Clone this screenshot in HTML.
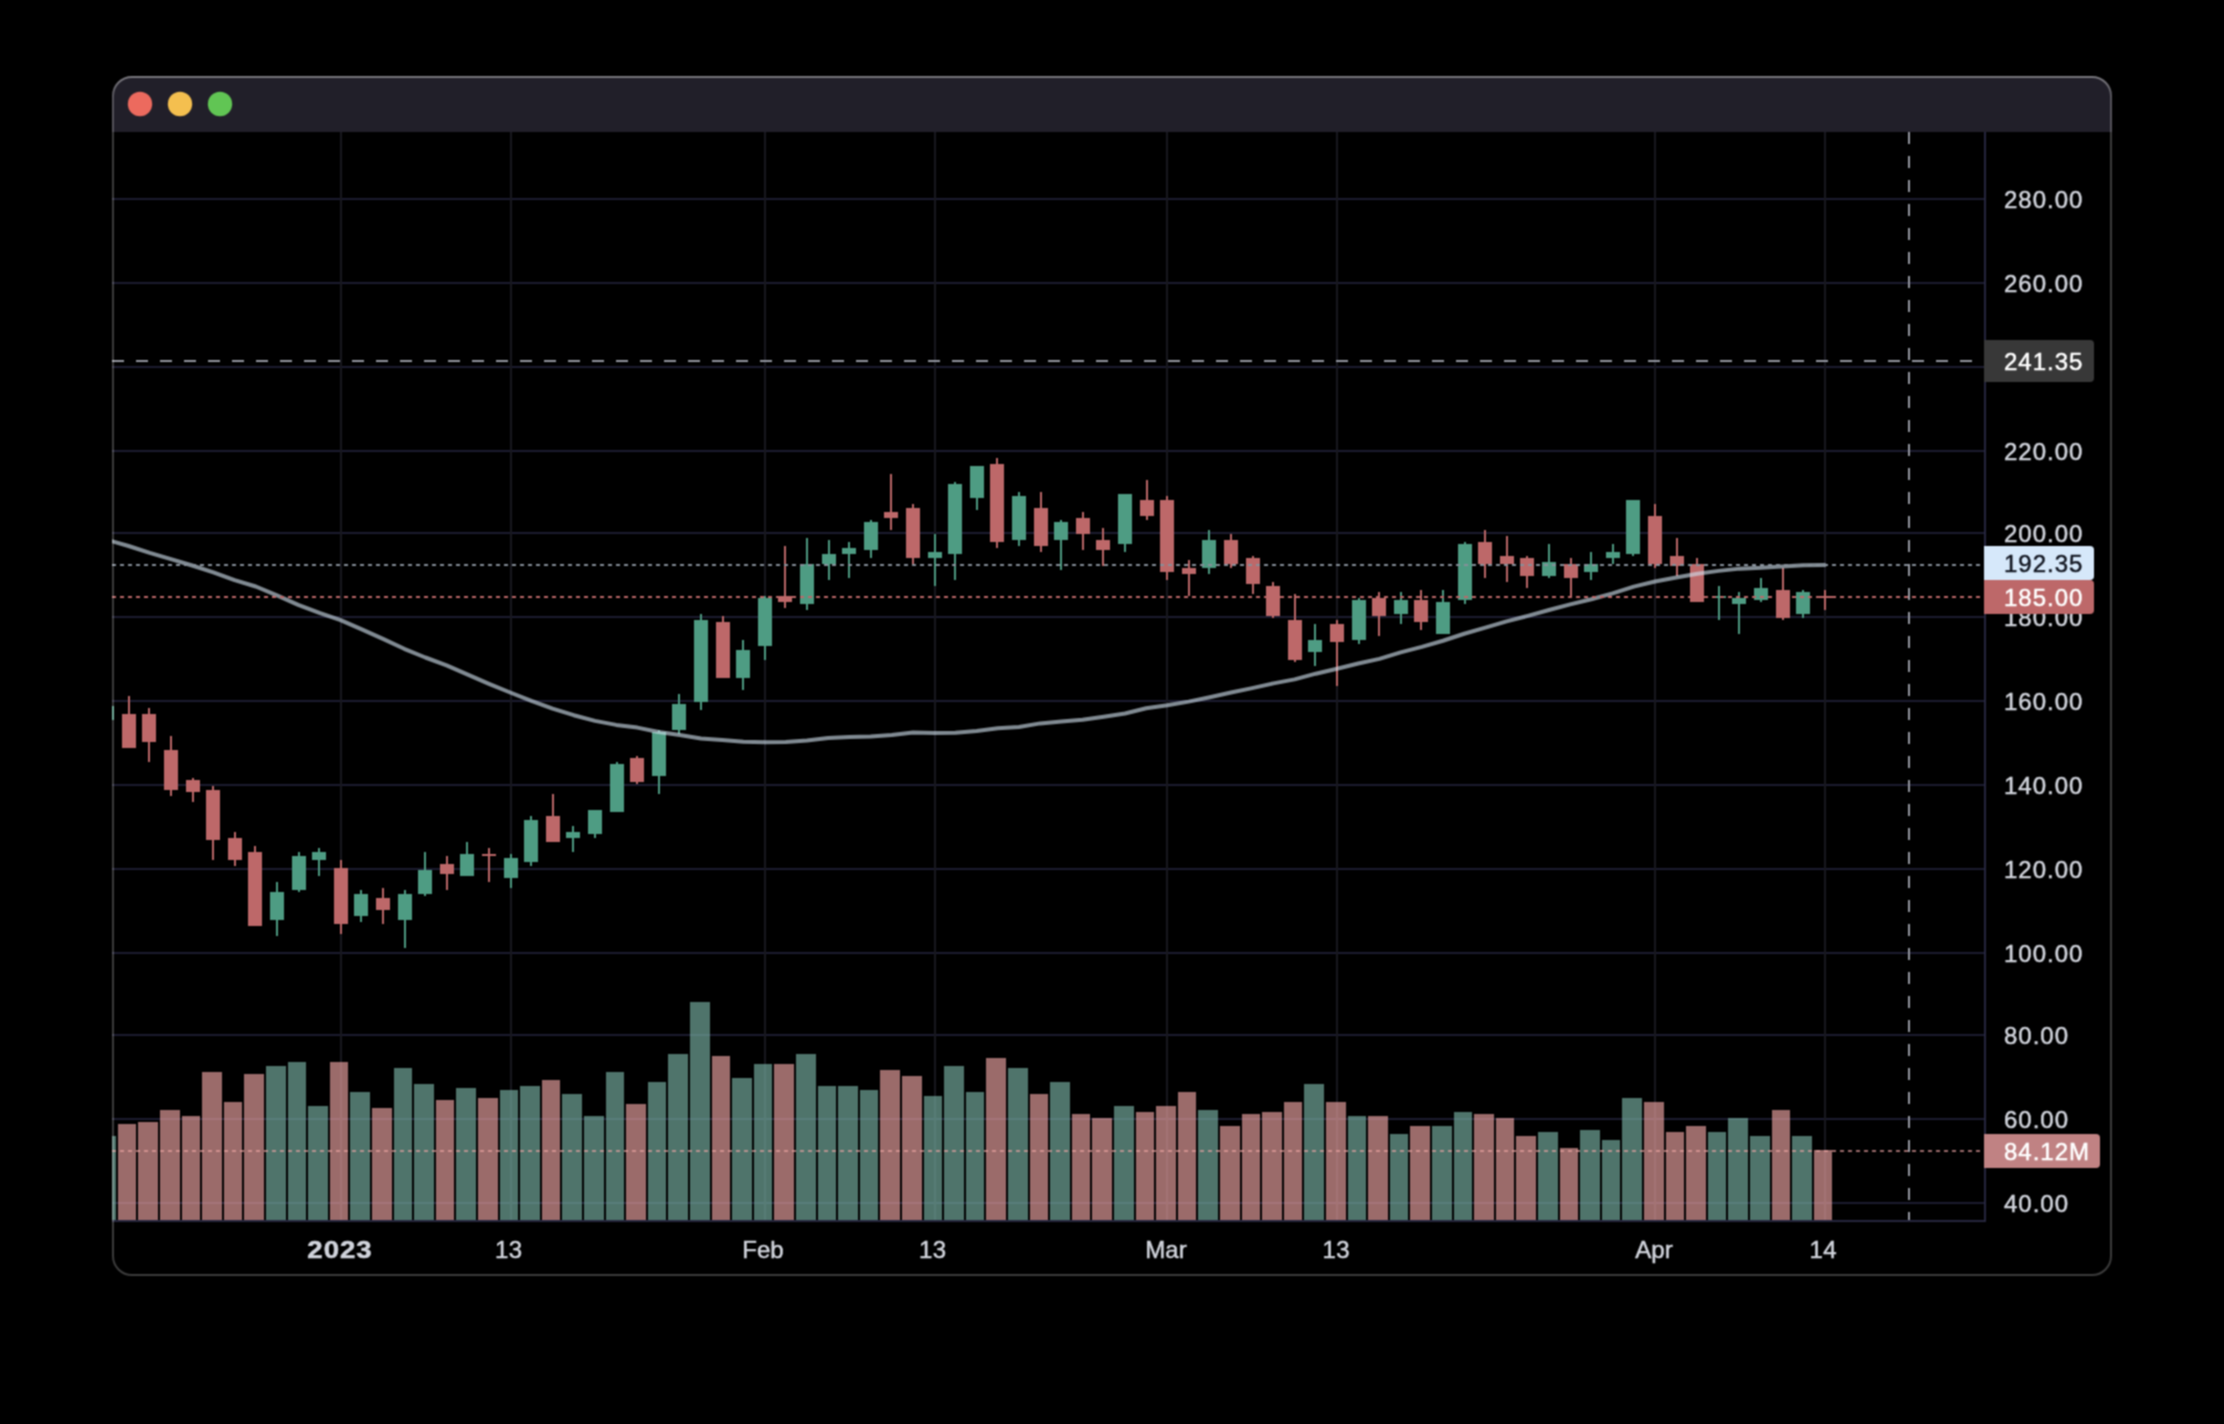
<!DOCTYPE html><html><head><meta charset="utf-8"><title>Chart</title>
<style>html,body{margin:0;padding:0;background:#000;width:2224px;height:1424px;overflow:hidden}svg{display:block;will-change:transform}text{font-family:"Liberation Sans",sans-serif}</style></head><body>
<svg xmlns="http://www.w3.org/2000/svg" width="2224" height="1424" viewBox="0 0 2224 1424" shape-rendering="crispEdges">
<defs>
<filter id="up" x="0" y="0" width="2224" height="1424" filterUnits="userSpaceOnUse" color-interpolation-filters="sRGB"><feConvolveMatrix order="3" kernelMatrix="1 2 1 2 4 2 1 2 1" divisor="16" edgeMode="duplicate" preserveAlpha="true"/></filter>
<clipPath id="win"><rect x="112" y="76" width="2000" height="1200" rx="20" ry="20"/></clipPath>
<clipPath id="pane"><rect x="112" y="132" width="1872" height="1088"/></clipPath>
<linearGradient id="tbh" x1="0" y1="76" x2="0" y2="98" gradientUnits="userSpaceOnUse"><stop offset="0" stop-color="#fff" stop-opacity="0.22"/><stop offset="1" stop-color="#fff" stop-opacity="0"/></linearGradient>
</defs>
<g filter="url(#up)">
<rect width="2224" height="1424" fill="#000"/>
<g clip-path="url(#win)">
<rect x="112" y="76" width="2000" height="1200" fill="#000"/>
<rect x="112" y="76" width="2000" height="56" fill="#211f29"/>
<g clip-path="url(#pane)">
<rect x="112" y="198" width="1872" height="2" fill="#1c1c30"/>
<rect x="112" y="282" width="1872" height="2" fill="#1c1c30"/>
<rect x="112" y="366" width="1872" height="2" fill="#1c1c30"/>
<rect x="112" y="450" width="1872" height="2" fill="#1c1c30"/>
<rect x="112" y="532" width="1872" height="2" fill="#1c1c30"/>
<rect x="112" y="616" width="1872" height="2" fill="#1c1c30"/>
<rect x="112" y="700" width="1872" height="2" fill="#1c1c30"/>
<rect x="112" y="784" width="1872" height="2" fill="#1c1c30"/>
<rect x="112" y="868" width="1872" height="2" fill="#1c1c30"/>
<rect x="112" y="952" width="1872" height="2" fill="#1c1c30"/>
<rect x="112" y="1034" width="1872" height="2" fill="#1c1c30"/>
<rect x="112" y="1118" width="1872" height="2" fill="#1c1c30"/>
<rect x="112" y="1202" width="1872" height="2" fill="#1c1c30"/>
<rect x="340" y="132" width="2" height="1088" fill="#18181f"/>
<rect x="510" y="132" width="2" height="1088" fill="#18181f"/>
<rect x="764" y="132" width="2" height="1088" fill="#18181f"/>
<rect x="934" y="132" width="2" height="1088" fill="#18181f"/>
<rect x="1166" y="132" width="2" height="1088" fill="#18181f"/>
<rect x="1336" y="132" width="2" height="1088" fill="#18181f"/>
<rect x="1654" y="132" width="2" height="1088" fill="#18181f"/>
<rect x="1824" y="132" width="2" height="1088" fill="#18181f"/>
<rect x="96" y="1136" width="20" height="84" fill="rgba(120,177,163,0.655)"/>
<rect x="118" y="1124" width="18" height="96" fill="rgba(236,164,162,0.655)"/>
<rect x="138" y="1122" width="20" height="98" fill="rgba(236,164,162,0.655)"/>
<rect x="160" y="1110" width="20" height="110" fill="rgba(236,164,162,0.655)"/>
<rect x="182" y="1116" width="18" height="104" fill="rgba(236,164,162,0.655)"/>
<rect x="202" y="1072" width="20" height="148" fill="rgba(236,164,162,0.655)"/>
<rect x="224" y="1102" width="18" height="118" fill="rgba(236,164,162,0.655)"/>
<rect x="244" y="1074" width="20" height="146" fill="rgba(236,164,162,0.655)"/>
<rect x="266" y="1066" width="20" height="154" fill="rgba(120,177,163,0.655)"/>
<rect x="288" y="1062" width="18" height="158" fill="rgba(120,177,163,0.655)"/>
<rect x="308" y="1106" width="20" height="114" fill="rgba(120,177,163,0.655)"/>
<rect x="330" y="1062" width="18" height="158" fill="rgba(236,164,162,0.655)"/>
<rect x="350" y="1092" width="20" height="128" fill="rgba(120,177,163,0.655)"/>
<rect x="372" y="1108" width="20" height="112" fill="rgba(236,164,162,0.655)"/>
<rect x="394" y="1068" width="18" height="152" fill="rgba(120,177,163,0.655)"/>
<rect x="414" y="1084" width="20" height="136" fill="rgba(120,177,163,0.655)"/>
<rect x="436" y="1100" width="18" height="120" fill="rgba(236,164,162,0.655)"/>
<rect x="456" y="1088" width="20" height="132" fill="rgba(120,177,163,0.655)"/>
<rect x="478" y="1098" width="20" height="122" fill="rgba(236,164,162,0.655)"/>
<rect x="500" y="1090" width="18" height="130" fill="rgba(120,177,163,0.655)"/>
<rect x="520" y="1086" width="20" height="134" fill="rgba(120,177,163,0.655)"/>
<rect x="542" y="1080" width="18" height="140" fill="rgba(236,164,162,0.655)"/>
<rect x="562" y="1094" width="20" height="126" fill="rgba(120,177,163,0.655)"/>
<rect x="584" y="1116" width="20" height="104" fill="rgba(120,177,163,0.655)"/>
<rect x="606" y="1072" width="18" height="148" fill="rgba(120,177,163,0.655)"/>
<rect x="626" y="1104" width="20" height="116" fill="rgba(236,164,162,0.655)"/>
<rect x="648" y="1082" width="18" height="138" fill="rgba(120,177,163,0.655)"/>
<rect x="668" y="1054" width="20" height="166" fill="rgba(120,177,163,0.655)"/>
<rect x="690" y="1002" width="20" height="218" fill="rgba(120,177,163,0.655)"/>
<rect x="712" y="1056" width="18" height="164" fill="rgba(236,164,162,0.655)"/>
<rect x="732" y="1078" width="20" height="142" fill="rgba(120,177,163,0.655)"/>
<rect x="754" y="1064" width="18" height="156" fill="rgba(120,177,163,0.655)"/>
<rect x="774" y="1064" width="20" height="156" fill="rgba(236,164,162,0.655)"/>
<rect x="796" y="1054" width="20" height="166" fill="rgba(120,177,163,0.655)"/>
<rect x="818" y="1086" width="18" height="134" fill="rgba(120,177,163,0.655)"/>
<rect x="838" y="1086" width="20" height="134" fill="rgba(120,177,163,0.655)"/>
<rect x="860" y="1090" width="18" height="130" fill="rgba(120,177,163,0.655)"/>
<rect x="880" y="1070" width="20" height="150" fill="rgba(236,164,162,0.655)"/>
<rect x="902" y="1076" width="20" height="144" fill="rgba(236,164,162,0.655)"/>
<rect x="924" y="1096" width="18" height="124" fill="rgba(120,177,163,0.655)"/>
<rect x="944" y="1066" width="20" height="154" fill="rgba(120,177,163,0.655)"/>
<rect x="966" y="1092" width="18" height="128" fill="rgba(120,177,163,0.655)"/>
<rect x="986" y="1058" width="20" height="162" fill="rgba(236,164,162,0.655)"/>
<rect x="1008" y="1068" width="20" height="152" fill="rgba(120,177,163,0.655)"/>
<rect x="1030" y="1094" width="18" height="126" fill="rgba(236,164,162,0.655)"/>
<rect x="1050" y="1082" width="20" height="138" fill="rgba(120,177,163,0.655)"/>
<rect x="1072" y="1114" width="18" height="106" fill="rgba(236,164,162,0.655)"/>
<rect x="1092" y="1118" width="20" height="102" fill="rgba(236,164,162,0.655)"/>
<rect x="1114" y="1106" width="20" height="114" fill="rgba(120,177,163,0.655)"/>
<rect x="1136" y="1112" width="18" height="108" fill="rgba(236,164,162,0.655)"/>
<rect x="1156" y="1106" width="20" height="114" fill="rgba(236,164,162,0.655)"/>
<rect x="1178" y="1092" width="18" height="128" fill="rgba(236,164,162,0.655)"/>
<rect x="1198" y="1110" width="20" height="110" fill="rgba(120,177,163,0.655)"/>
<rect x="1220" y="1126" width="20" height="94" fill="rgba(236,164,162,0.655)"/>
<rect x="1242" y="1114" width="18" height="106" fill="rgba(236,164,162,0.655)"/>
<rect x="1262" y="1112" width="20" height="108" fill="rgba(236,164,162,0.655)"/>
<rect x="1284" y="1102" width="18" height="118" fill="rgba(236,164,162,0.655)"/>
<rect x="1304" y="1084" width="20" height="136" fill="rgba(120,177,163,0.655)"/>
<rect x="1326" y="1102" width="20" height="118" fill="rgba(236,164,162,0.655)"/>
<rect x="1348" y="1116" width="18" height="104" fill="rgba(120,177,163,0.655)"/>
<rect x="1368" y="1116" width="20" height="104" fill="rgba(236,164,162,0.655)"/>
<rect x="1390" y="1134" width="18" height="86" fill="rgba(120,177,163,0.655)"/>
<rect x="1410" y="1126" width="20" height="94" fill="rgba(236,164,162,0.655)"/>
<rect x="1432" y="1126" width="20" height="94" fill="rgba(120,177,163,0.655)"/>
<rect x="1454" y="1112" width="18" height="108" fill="rgba(120,177,163,0.655)"/>
<rect x="1474" y="1114" width="20" height="106" fill="rgba(236,164,162,0.655)"/>
<rect x="1496" y="1118" width="18" height="102" fill="rgba(236,164,162,0.655)"/>
<rect x="1516" y="1136" width="20" height="84" fill="rgba(236,164,162,0.655)"/>
<rect x="1538" y="1132" width="20" height="88" fill="rgba(120,177,163,0.655)"/>
<rect x="1560" y="1148" width="18" height="72" fill="rgba(236,164,162,0.655)"/>
<rect x="1580" y="1130" width="20" height="90" fill="rgba(120,177,163,0.655)"/>
<rect x="1602" y="1140" width="18" height="80" fill="rgba(120,177,163,0.655)"/>
<rect x="1622" y="1098" width="20" height="122" fill="rgba(120,177,163,0.655)"/>
<rect x="1644" y="1102" width="20" height="118" fill="rgba(236,164,162,0.655)"/>
<rect x="1666" y="1132" width="18" height="88" fill="rgba(236,164,162,0.655)"/>
<rect x="1686" y="1126" width="20" height="94" fill="rgba(236,164,162,0.655)"/>
<rect x="1708" y="1132" width="18" height="88" fill="rgba(120,177,163,0.655)"/>
<rect x="1728" y="1118" width="20" height="102" fill="rgba(120,177,163,0.655)"/>
<rect x="1750" y="1136" width="20" height="84" fill="rgba(120,177,163,0.655)"/>
<rect x="1772" y="1110" width="18" height="110" fill="rgba(236,164,162,0.655)"/>
<rect x="1792" y="1136" width="20" height="84" fill="rgba(120,177,163,0.655)"/>
<rect x="1814" y="1150" width="18" height="70" fill="rgba(236,164,162,0.655)"/>
<rect x="106" y="700" width="2" height="22" fill="#4e9c83"/>
<rect x="100" y="706" width="14" height="14" fill="#4e9c83"/>
<rect x="128" y="696" width="2" height="52" fill="#bd6869"/>
<rect x="122" y="714" width="14" height="34" fill="#bd6869"/>
<rect x="148" y="708" width="2" height="54" fill="#bd6869"/>
<rect x="142" y="714" width="14" height="28" fill="#bd6869"/>
<rect x="170" y="736" width="2" height="60" fill="#bd6869"/>
<rect x="164" y="750" width="14" height="40" fill="#bd6869"/>
<rect x="192" y="778" width="2" height="24" fill="#bd6869"/>
<rect x="186" y="780" width="14" height="12" fill="#bd6869"/>
<rect x="212" y="786" width="2" height="74" fill="#bd6869"/>
<rect x="206" y="790" width="14" height="50" fill="#bd6869"/>
<rect x="234" y="832" width="2" height="34" fill="#bd6869"/>
<rect x="228" y="838" width="14" height="22" fill="#bd6869"/>
<rect x="254" y="846" width="2" height="80" fill="#bd6869"/>
<rect x="248" y="852" width="14" height="74" fill="#bd6869"/>
<rect x="276" y="882" width="2" height="54" fill="#4e9c83"/>
<rect x="270" y="892" width="14" height="28" fill="#4e9c83"/>
<rect x="298" y="852" width="2" height="40" fill="#4e9c83"/>
<rect x="292" y="856" width="14" height="34" fill="#4e9c83"/>
<rect x="318" y="848" width="2" height="28" fill="#4e9c83"/>
<rect x="312" y="852" width="14" height="8" fill="#4e9c83"/>
<rect x="340" y="860" width="2" height="74" fill="#bd6869"/>
<rect x="334" y="868" width="14" height="56" fill="#bd6869"/>
<rect x="360" y="890" width="2" height="32" fill="#4e9c83"/>
<rect x="354" y="894" width="14" height="22" fill="#4e9c83"/>
<rect x="382" y="888" width="2" height="36" fill="#bd6869"/>
<rect x="376" y="898" width="14" height="12" fill="#bd6869"/>
<rect x="404" y="890" width="2" height="58" fill="#4e9c83"/>
<rect x="398" y="894" width="14" height="26" fill="#4e9c83"/>
<rect x="424" y="852" width="2" height="44" fill="#4e9c83"/>
<rect x="418" y="870" width="14" height="24" fill="#4e9c83"/>
<rect x="446" y="856" width="2" height="34" fill="#bd6869"/>
<rect x="440" y="864" width="14" height="10" fill="#bd6869"/>
<rect x="466" y="842" width="2" height="34" fill="#4e9c83"/>
<rect x="460" y="854" width="14" height="22" fill="#4e9c83"/>
<rect x="488" y="848" width="2" height="34" fill="#bd6869"/>
<rect x="482" y="854" width="14" height="2" fill="#bd6869"/>
<rect x="510" y="854" width="2" height="34" fill="#4e9c83"/>
<rect x="504" y="858" width="14" height="20" fill="#4e9c83"/>
<rect x="530" y="816" width="2" height="50" fill="#4e9c83"/>
<rect x="524" y="820" width="14" height="42" fill="#4e9c83"/>
<rect x="552" y="794" width="2" height="48" fill="#bd6869"/>
<rect x="546" y="816" width="14" height="26" fill="#bd6869"/>
<rect x="572" y="826" width="2" height="26" fill="#4e9c83"/>
<rect x="566" y="832" width="14" height="6" fill="#4e9c83"/>
<rect x="594" y="810" width="2" height="28" fill="#4e9c83"/>
<rect x="588" y="810" width="14" height="24" fill="#4e9c83"/>
<rect x="616" y="762" width="2" height="50" fill="#4e9c83"/>
<rect x="610" y="764" width="14" height="48" fill="#4e9c83"/>
<rect x="636" y="756" width="2" height="28" fill="#bd6869"/>
<rect x="630" y="758" width="14" height="24" fill="#bd6869"/>
<rect x="658" y="730" width="2" height="64" fill="#4e9c83"/>
<rect x="652" y="732" width="14" height="44" fill="#4e9c83"/>
<rect x="678" y="694" width="2" height="40" fill="#4e9c83"/>
<rect x="672" y="704" width="14" height="26" fill="#4e9c83"/>
<rect x="700" y="614" width="2" height="96" fill="#4e9c83"/>
<rect x="694" y="620" width="14" height="82" fill="#4e9c83"/>
<rect x="722" y="616" width="2" height="62" fill="#bd6869"/>
<rect x="716" y="622" width="14" height="56" fill="#bd6869"/>
<rect x="742" y="640" width="2" height="50" fill="#4e9c83"/>
<rect x="736" y="650" width="14" height="28" fill="#4e9c83"/>
<rect x="764" y="596" width="2" height="64" fill="#4e9c83"/>
<rect x="758" y="598" width="14" height="48" fill="#4e9c83"/>
<rect x="784" y="546" width="2" height="62" fill="#bd6869"/>
<rect x="778" y="596" width="14" height="6" fill="#bd6869"/>
<rect x="806" y="538" width="2" height="72" fill="#4e9c83"/>
<rect x="800" y="564" width="14" height="40" fill="#4e9c83"/>
<rect x="828" y="540" width="2" height="40" fill="#4e9c83"/>
<rect x="822" y="554" width="14" height="10" fill="#4e9c83"/>
<rect x="848" y="542" width="2" height="36" fill="#4e9c83"/>
<rect x="842" y="548" width="14" height="6" fill="#4e9c83"/>
<rect x="870" y="520" width="2" height="38" fill="#4e9c83"/>
<rect x="864" y="522" width="14" height="28" fill="#4e9c83"/>
<rect x="890" y="474" width="2" height="56" fill="#bd6869"/>
<rect x="884" y="512" width="14" height="6" fill="#bd6869"/>
<rect x="912" y="504" width="2" height="60" fill="#bd6869"/>
<rect x="906" y="508" width="14" height="50" fill="#bd6869"/>
<rect x="934" y="534" width="2" height="52" fill="#4e9c83"/>
<rect x="928" y="552" width="14" height="6" fill="#4e9c83"/>
<rect x="954" y="482" width="2" height="98" fill="#4e9c83"/>
<rect x="948" y="484" width="14" height="70" fill="#4e9c83"/>
<rect x="976" y="466" width="2" height="44" fill="#4e9c83"/>
<rect x="970" y="466" width="14" height="32" fill="#4e9c83"/>
<rect x="996" y="458" width="2" height="90" fill="#bd6869"/>
<rect x="990" y="464" width="14" height="78" fill="#bd6869"/>
<rect x="1018" y="492" width="2" height="54" fill="#4e9c83"/>
<rect x="1012" y="496" width="14" height="44" fill="#4e9c83"/>
<rect x="1040" y="492" width="2" height="60" fill="#bd6869"/>
<rect x="1034" y="508" width="14" height="38" fill="#bd6869"/>
<rect x="1060" y="520" width="2" height="50" fill="#4e9c83"/>
<rect x="1054" y="522" width="14" height="18" fill="#4e9c83"/>
<rect x="1082" y="512" width="2" height="38" fill="#bd6869"/>
<rect x="1076" y="518" width="14" height="16" fill="#bd6869"/>
<rect x="1102" y="528" width="2" height="38" fill="#bd6869"/>
<rect x="1096" y="540" width="14" height="10" fill="#bd6869"/>
<rect x="1124" y="494" width="2" height="58" fill="#4e9c83"/>
<rect x="1118" y="494" width="14" height="50" fill="#4e9c83"/>
<rect x="1146" y="480" width="2" height="40" fill="#bd6869"/>
<rect x="1140" y="500" width="14" height="16" fill="#bd6869"/>
<rect x="1166" y="496" width="2" height="84" fill="#bd6869"/>
<rect x="1160" y="500" width="14" height="72" fill="#bd6869"/>
<rect x="1188" y="560" width="2" height="36" fill="#bd6869"/>
<rect x="1182" y="568" width="14" height="6" fill="#bd6869"/>
<rect x="1208" y="530" width="2" height="44" fill="#4e9c83"/>
<rect x="1202" y="540" width="14" height="28" fill="#4e9c83"/>
<rect x="1230" y="534" width="2" height="34" fill="#bd6869"/>
<rect x="1224" y="540" width="14" height="24" fill="#bd6869"/>
<rect x="1252" y="556" width="2" height="38" fill="#bd6869"/>
<rect x="1246" y="558" width="14" height="26" fill="#bd6869"/>
<rect x="1272" y="582" width="2" height="36" fill="#bd6869"/>
<rect x="1266" y="586" width="14" height="30" fill="#bd6869"/>
<rect x="1294" y="594" width="2" height="68" fill="#bd6869"/>
<rect x="1288" y="620" width="14" height="40" fill="#bd6869"/>
<rect x="1314" y="624" width="2" height="42" fill="#4e9c83"/>
<rect x="1308" y="640" width="14" height="12" fill="#4e9c83"/>
<rect x="1336" y="620" width="2" height="66" fill="#bd6869"/>
<rect x="1330" y="624" width="14" height="18" fill="#bd6869"/>
<rect x="1358" y="598" width="2" height="46" fill="#4e9c83"/>
<rect x="1352" y="600" width="14" height="40" fill="#4e9c83"/>
<rect x="1378" y="592" width="2" height="44" fill="#bd6869"/>
<rect x="1372" y="598" width="14" height="18" fill="#bd6869"/>
<rect x="1400" y="592" width="2" height="32" fill="#4e9c83"/>
<rect x="1394" y="600" width="14" height="14" fill="#4e9c83"/>
<rect x="1420" y="590" width="2" height="40" fill="#bd6869"/>
<rect x="1414" y="600" width="14" height="22" fill="#bd6869"/>
<rect x="1442" y="590" width="2" height="44" fill="#4e9c83"/>
<rect x="1436" y="602" width="14" height="32" fill="#4e9c83"/>
<rect x="1464" y="542" width="2" height="62" fill="#4e9c83"/>
<rect x="1458" y="544" width="14" height="56" fill="#4e9c83"/>
<rect x="1484" y="530" width="2" height="48" fill="#bd6869"/>
<rect x="1478" y="542" width="14" height="22" fill="#bd6869"/>
<rect x="1506" y="536" width="2" height="46" fill="#bd6869"/>
<rect x="1500" y="556" width="14" height="8" fill="#bd6869"/>
<rect x="1526" y="556" width="2" height="32" fill="#bd6869"/>
<rect x="1520" y="558" width="14" height="18" fill="#bd6869"/>
<rect x="1548" y="544" width="2" height="34" fill="#4e9c83"/>
<rect x="1542" y="562" width="14" height="14" fill="#4e9c83"/>
<rect x="1570" y="558" width="2" height="40" fill="#bd6869"/>
<rect x="1564" y="564" width="14" height="14" fill="#bd6869"/>
<rect x="1590" y="552" width="2" height="28" fill="#4e9c83"/>
<rect x="1584" y="564" width="14" height="8" fill="#4e9c83"/>
<rect x="1612" y="544" width="2" height="20" fill="#4e9c83"/>
<rect x="1606" y="552" width="14" height="6" fill="#4e9c83"/>
<rect x="1632" y="500" width="2" height="56" fill="#4e9c83"/>
<rect x="1626" y="500" width="14" height="54" fill="#4e9c83"/>
<rect x="1654" y="504" width="2" height="64" fill="#bd6869"/>
<rect x="1648" y="516" width="14" height="48" fill="#bd6869"/>
<rect x="1676" y="538" width="2" height="38" fill="#bd6869"/>
<rect x="1670" y="556" width="14" height="10" fill="#bd6869"/>
<rect x="1696" y="558" width="2" height="44" fill="#bd6869"/>
<rect x="1690" y="564" width="14" height="38" fill="#bd6869"/>
<rect x="1718" y="586" width="2" height="34" fill="#4e9c83"/>
<rect x="1712" y="596" width="14" height="2" fill="#4e9c83"/>
<rect x="1738" y="592" width="2" height="42" fill="#4e9c83"/>
<rect x="1732" y="598" width="14" height="6" fill="#4e9c83"/>
<rect x="1760" y="578" width="2" height="24" fill="#4e9c83"/>
<rect x="1754" y="588" width="14" height="12" fill="#4e9c83"/>
<rect x="1782" y="568" width="2" height="52" fill="#bd6869"/>
<rect x="1776" y="590" width="14" height="28" fill="#bd6869"/>
<rect x="1802" y="590" width="2" height="28" fill="#4e9c83"/>
<rect x="1796" y="592" width="14" height="22" fill="#4e9c83"/>
<rect x="1824" y="590" width="2" height="20" fill="#bd6869"/>
<rect x="1818" y="596" width="14" height="2" fill="#bd6869"/>
<polyline points="107.4,539.9 128.6,546 149.8,552.9 171,559.2 192.2,565.5 213.4,572.3 234.6,580.2 255.8,586.5 277,595.4 298.2,604.8 319.4,612.9 340.6,620.1 361.8,629.4 383,638.9 404.2,648.8 425.4,657.5 446.6,665.3 467.8,674.6 489,683.8 510.2,692.5 531.4,700.9 552.6,708.7 573.8,715.2 595,720.9 616.2,724.9 637.4,727.6 658.6,732 679.8,735 701,738.5 722.2,740 743.4,741.7 764.6,742.2 785.8,741.9 807,740.4 828.2,738 849.4,737.1 870.6,736.4 891.8,734.9 913,732.6 934.2,733 955.4,732.8 976.6,731 997.8,728.3 1019,727 1040.2,723.4 1061.4,721.4 1082.6,719.8 1103.8,716.7 1125,713.5 1146.2,708.26 1167.4,705.33 1188.6,701.6 1209.8,697.31 1231,692.54 1252.2,688.13 1273.4,683.4 1294.6,679.4 1315.8,673.68 1337,668.68 1358.2,663.56 1379.4,658.84 1400.6,652.36 1421.8,646.92 1443,640.76 1464.2,633.76 1485.4,627.64 1506.6,621.44 1527.8,615.88 1549,610 1570.2,604.4 1591.4,599.28 1612.6,593.35 1633.8,586.59 1655,581.54 1676.2,577.45 1697.4,573.72 1718.6,570.88 1739.8,568.63 1761,567.86 1782.2,566.53 1803.4,565.25 1824.6,565.12" fill="none" stroke="rgba(207,222,236,0.62)" stroke-width="4" stroke-linejoin="round" stroke-linecap="round" shape-rendering="geometricPrecision"/>
<line x1="112" y1="565" x2="1984" y2="565" stroke="#868f99" stroke-width="2" stroke-dasharray="4 4"/>
<line x1="112" y1="597" x2="1984" y2="597" stroke="#bd6869" stroke-width="2" stroke-dasharray="4 4"/>
<line x1="112" y1="1151" x2="1984" y2="1151" stroke="rgba(236,164,162,0.655)" stroke-width="2" stroke-dasharray="4 4"/>
<line x1="1909" y1="132" x2="1909" y2="1220" stroke="#9598a1" stroke-width="2" stroke-dasharray="12 12"/>
<line x1="112" y1="361" x2="1984" y2="361" stroke="#9598a1" stroke-width="2" stroke-dasharray="12 12"/>
</g>
<rect x="1984" y="132" width="2" height="1090" fill="#26263e"/>
<rect x="112" y="1220" width="1874" height="2" fill="#26263e"/>
<text x="2004" y="207.8" font-size="24" letter-spacing="1" fill="#d1d4dc" stroke="#d1d4dc" stroke-width="0.5">280.00</text>
<text x="2004" y="291.8" font-size="24" letter-spacing="1" fill="#d1d4dc" stroke="#d1d4dc" stroke-width="0.5">260.00</text>
<text x="2004" y="459.8" font-size="24" letter-spacing="1" fill="#d1d4dc" stroke="#d1d4dc" stroke-width="0.5">220.00</text>
<text x="2004" y="541.8" font-size="24" letter-spacing="1" fill="#d1d4dc" stroke="#d1d4dc" stroke-width="0.5">200.00</text>
<text x="2004" y="625.8" font-size="24" letter-spacing="1" fill="#d1d4dc" stroke="#d1d4dc" stroke-width="0.5">180.00</text>
<text x="2004" y="709.8" font-size="24" letter-spacing="1" fill="#d1d4dc" stroke="#d1d4dc" stroke-width="0.5">160.00</text>
<text x="2004" y="793.8" font-size="24" letter-spacing="1" fill="#d1d4dc" stroke="#d1d4dc" stroke-width="0.5">140.00</text>
<text x="2004" y="877.8" font-size="24" letter-spacing="1" fill="#d1d4dc" stroke="#d1d4dc" stroke-width="0.5">120.00</text>
<text x="2004" y="961.8" font-size="24" letter-spacing="1" fill="#d1d4dc" stroke="#d1d4dc" stroke-width="0.5">100.00</text>
<text x="2004" y="1043.8" font-size="24" letter-spacing="1" fill="#d1d4dc" stroke="#d1d4dc" stroke-width="0.5">80.00</text>
<text x="2004" y="1127.8" font-size="24" letter-spacing="1" fill="#d1d4dc" stroke="#d1d4dc" stroke-width="0.5">60.00</text>
<text x="2004" y="1211.8" font-size="24" letter-spacing="1" fill="#d1d4dc" stroke="#d1d4dc" stroke-width="0.5">40.00</text>
<path d="M1984,340 H2090 a4,4 0 0 1 4,4 V378 a4,4 0 0 1 -4,4 H1984 Z" fill="#383838" shape-rendering="geometricPrecision"/>
<text x="2004" y="369.6" font-size="24" letter-spacing="1" fill="#ffffff" stroke="#ffffff" stroke-width="0.5">241.35</text>
<path d="M1984,546 H2090 a4,4 0 0 1 4,4 V576 a4,4 0 0 1 -4,4 H1984 Z" fill="#d6e8fa" shape-rendering="geometricPrecision"/>
<text x="2004" y="571.6" font-size="24" letter-spacing="1" fill="#131722" stroke="#131722" stroke-width="0.5">192.35</text>
<path d="M1984,580 H2090 a4,4 0 0 1 4,4 V610 a4,4 0 0 1 -4,4 H1984 Z" fill="#bd6869" shape-rendering="geometricPrecision"/>
<text x="2004" y="605.6" font-size="24" letter-spacing="1" fill="#ffffff" stroke="#ffffff" stroke-width="0.5">185.00</text>
<path d="M1984,1134 H2096 a4,4 0 0 1 4,4 V1164 a4,4 0 0 1 -4,4 H1984 Z" fill="#c08283" shape-rendering="geometricPrecision"/>
<text x="2004" y="1160.2" font-size="24" letter-spacing="1" fill="#ffffff" stroke="#ffffff" stroke-width="0.5">84.12M</text>
<text transform="translate(339.9,1257.7) scale(1.15,1)" x="0" y="0" font-size="24" font-weight="bold" letter-spacing="0.8" fill="#d1d4dc" text-anchor="middle" stroke="#d1d4dc" stroke-width="0.5">2023</text>
<text x="508.75" y="1257.7" font-size="24" letter-spacing="0.5" fill="#d1d4dc" text-anchor="middle" stroke="#d1d4dc" stroke-width="0.5">13</text>
<text x="763" y="1257.7" font-size="24" letter-spacing="0" fill="#d1d4dc" text-anchor="middle" stroke="#d1d4dc" stroke-width="0.5">Feb</text>
<text x="932.75" y="1257.7" font-size="24" letter-spacing="0.5" fill="#d1d4dc" text-anchor="middle" stroke="#d1d4dc" stroke-width="0.5">13</text>
<text x="1166" y="1257.7" font-size="24" letter-spacing="0" fill="#d1d4dc" text-anchor="middle" stroke="#d1d4dc" stroke-width="0.5">Mar</text>
<text x="1336.25" y="1257.7" font-size="24" letter-spacing="0.5" fill="#d1d4dc" text-anchor="middle" stroke="#d1d4dc" stroke-width="0.5">13</text>
<text x="1654" y="1257.7" font-size="24" letter-spacing="0" fill="#d1d4dc" text-anchor="middle" stroke="#d1d4dc" stroke-width="0.5">Apr</text>
<text x="1823.25" y="1257.7" font-size="24" letter-spacing="0.5" fill="#d1d4dc" text-anchor="middle" stroke="#d1d4dc" stroke-width="0.5">14</text>
</g>
<rect x="113" y="77" width="1998" height="1198" rx="19" ry="19" fill="none" stroke="rgba(255,255,255,0.235)" stroke-width="2" shape-rendering="geometricPrecision"/>
<path d="M113,100 V96 a19,19 0 0 1 19,-19 H2092 a19,19 0 0 1 19,19 V100" fill="none" stroke="url(#tbh)" stroke-width="2" shape-rendering="geometricPrecision"/>
<circle cx="140" cy="104" r="12.2" fill="#ec6a5e" shape-rendering="geometricPrecision"/>
<circle cx="180" cy="104" r="12.2" fill="#f4bf4f" shape-rendering="geometricPrecision"/>
<circle cx="220" cy="104" r="12.2" fill="#61c554" shape-rendering="geometricPrecision"/>
</g>
</svg></body></html>
